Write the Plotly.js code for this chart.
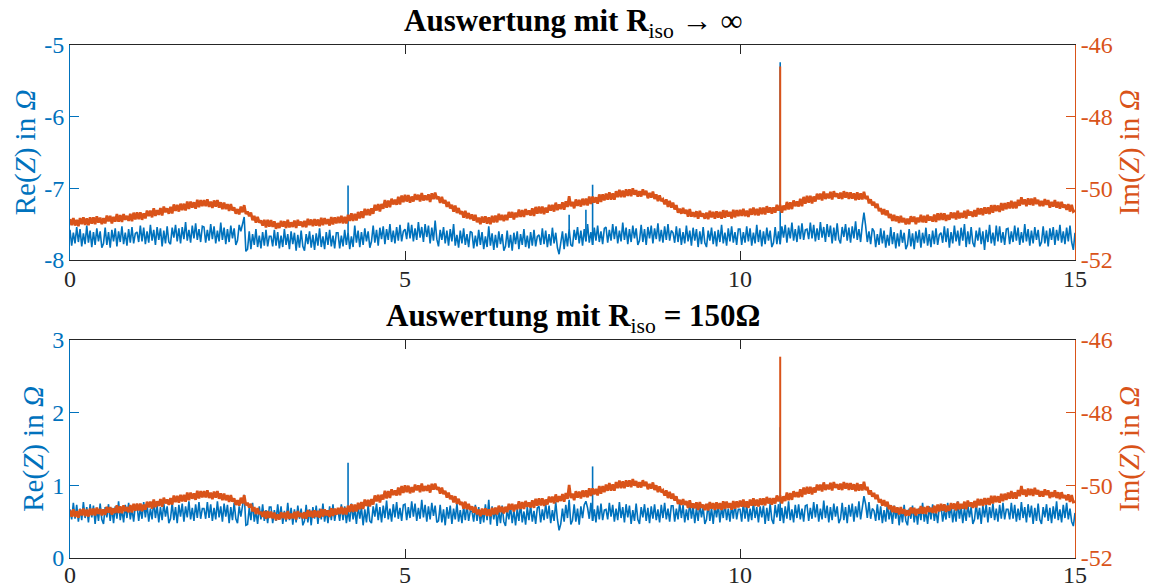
<!DOCTYPE html>
<html>
<head>
<meta charset="utf-8">
<script src="https://cdn.plot.ly/plotly-3.0.1.min.js"></script>
<style>html,body{margin:0;padding:0;background:#fff;}#chart{width:1149px;height:587px;}</style>
</head>
<body>
<div id="chart"></div>
<script>
// sampling of the time axis (s)
const timeStart = 0;
const timeStep = 0.025;

// Auswertung mit R_iso -> infinity
const reTop = [
-7.58,-7.80,-7.62,-7.77,-7.54,-7.75,-7.57,-7.81,-7.63,-7.78,-7.52,-7.76,-7.59,-7.82,-7.61,-7.79,-7.56,-7.74,-7.60,-7.83,-7.77,-7.55,-7.79,-7.61,-7.83,-7.58,-7.74,-7.56,-7.81,-7.60,-7.75,-7.53,-7.78,-7.62,-7.80,-7.57,-7.76,-7.54,-7.77,-7.63,
-7.61,-7.75,-7.52,-7.74,-7.55,-7.78,-7.60,-7.76,-7.51,-7.73,-7.58,-7.79,-7.54,-7.72,-7.56,-7.81,-7.59,-7.77,-7.53,-7.75,-7.78,-7.55,-7.69,-7.51,-7.74,-7.56,-7.77,-7.54,-7.71,-7.47,-7.73,-7.58,-7.76,-7.52,-7.70,-7.49,-7.72,-7.57,-7.75,-7.53,
-7.54,-7.76,-7.58,-7.73,-7.50,-7.71,-7.53,-7.77,-7.59,-7.74,-7.48,-7.72,-7.55,-7.78,-7.57,-7.75,-7.52,-7.70,-7.56,-7.79,-7.73,-7.51,-7.60,-7.50,-7.40,-7.88,-7.85,-7.60,-7.85,-7.64,-7.79,-7.57,-7.82,-7.66,-7.84,-7.61,-7.80,-7.58,-7.81,-7.67,
-7.67,-7.81,-7.58,-7.80,-7.61,-7.84,-7.66,-7.82,-7.57,-7.79,-7.64,-7.85,-7.60,-7.78,-7.62,-7.87,-7.65,-7.83,-7.59,-7.81,-7.87,-7.64,-7.78,-7.60,-7.83,-7.65,-7.86,-7.63,-7.80,-7.56,-7.82,-7.67,-7.85,-7.61,-7.79,-7.58,-7.81,-7.66,-7.84,-7.62,
-7.62,-7.84,-7.66,-7.81,-7.58,-7.79,-7.61,-7.85,-7.67,-7.82,-7.52,-7.76,-7.59,-7.82,-7.61,-7.79,-7.56,-7.74,-7.60,-7.83,-7.74,-7.52,-7.76,-7.58,-7.80,-7.55,-7.71,-7.53,-7.78,-7.57,-7.72,-7.50,-7.75,-7.59,-7.77,-7.54,-7.73,-7.51,-7.74,-7.60,
-7.57,-7.71,-7.48,-7.70,-7.51,-7.74,-7.56,-7.72,-7.47,-7.69,-7.54,-7.75,-7.50,-7.68,-7.52,-7.77,-7.55,-7.73,-7.45,-7.71,-7.81,-7.58,-7.72,-7.54,-7.77,-7.59,-7.80,-7.57,-7.74,-7.50,-7.80,-7.65,-7.83,-7.59,-7.77,-7.56,-7.79,-7.64,-7.82,-7.60,
-7.62,-7.84,-7.66,-7.81,-7.58,-7.79,-7.61,-7.85,-7.67,-7.82,-7.53,-7.80,-7.63,-7.86,-7.65,-7.83,-7.60,-7.78,-7.64,-7.87,-7.81,-7.59,-7.83,-7.65,-7.87,-7.62,-7.78,-7.60,-7.85,-7.64,-7.79,-7.57,-7.82,-7.66,-7.84,-7.61,-7.80,-7.58,-7.81,-7.67,
-7.65,-7.79,-7.56,-7.78,-7.59,-7.82,-7.64,-7.80,-7.55,-7.77,-7.62,-7.83,-7.92,-7.76,-7.60,-7.85,-7.63,-7.81,-7.57,-7.79,-7.81,-7.58,-7.72,-7.54,-7.77,-7.59,-7.80,-7.57,-7.74,-7.50,-7.76,-7.61,-7.79,-7.55,-7.73,-7.52,-7.75,-7.60,-7.78,-7.56,
-7.54,-7.76,-7.58,-7.73,-7.50,-7.71,-7.53,-7.77,-7.59,-7.74,-7.48,-7.72,-7.55,-7.78,-7.57,-7.75,-7.52,-7.70,-7.56,-7.79,-7.73,-7.51,-7.75,-7.57,-7.79,-7.54,-7.70,-7.52,-7.77,-7.56,-7.71,-7.49,-7.74,-7.58,-7.76,-7.53,-7.72,-7.50,-7.73,-7.59,
-7.62,-7.76,-7.53,-7.75,-7.56,-7.79,-7.61,-7.77,-7.52,-7.74,-7.59,-7.80,-7.55,-7.73,-7.57,-7.82,-7.60,-7.78,-7.54,-7.76,-7.82,-7.59,-7.73,-7.55,-7.78,-7.60,-7.81,-7.58,-7.75,-7.51,-7.77,-7.62,-7.80,-7.56,-7.74,-7.53,-7.76,-7.61,-7.79,-7.57,
-7.57,-7.79,-7.61,-7.76,-7.53,-7.74,-7.56,-7.80,-7.62,-7.77,-7.51,-7.75,-7.58,-7.81,-7.60,-7.78,-7.55,-7.73,-7.59,-7.82,-7.76,-7.54,-7.78,-7.60,-7.78,-7.53,-7.69,-7.51,-7.76,-7.55,-7.70,-7.48,-7.73,-7.57,-7.75,-7.52,-7.71,-7.49,-7.72,-7.58,
-7.57,-7.71,-7.48,-7.70,-7.51,-7.74,-7.56,-7.72,-7.47,-7.69,-7.54,-7.75,-7.50,-7.68,-7.52,-7.77,-7.55,-7.73,-7.49,-7.71,-7.77,-7.54,-7.68,-7.50,-7.73,-7.55,-7.76,-7.53,-7.70,-7.46,-7.72,-7.57,-7.75,-7.51,-7.34,-7.52,-7.75,-7.60,-7.78,-7.56,
-7.60,-7.82,-7.64,-7.79,-7.56,-7.77,-7.59,-7.83,-7.65,-7.80,-7.54,-7.78,-7.61,-7.84,-7.63,-7.81,-7.58,-7.76,-7.62,-7.85,-7.79,-7.57,-7.81,-7.63,-7.85,-7.60,-7.76,-7.58,-7.83,-7.62,-7.77,-7.55,-7.80,-7.64,-7.82,-7.59,-7.78,-7.56,-7.79,-7.65,
-7.62,-7.76,-7.53,-7.75,-7.56,-7.83,-7.61,-7.77,-7.52,-7.74,-7.59,-7.80,-7.55,-7.73,-7.50,-7.82,-7.60,-7.78,-7.54,-7.76,-7.82,-7.59,-7.73,-7.55,-7.78,-7.60,-7.86,-7.58,-7.75,-7.51,-7.77,-7.62,-7.80,-7.52,-7.74,-7.53,-7.76,-7.61,-7.79,-7.57,
-7.56,-7.78,-7.60,-7.75,-7.52,-7.73,-7.55,-7.79,-7.61,-7.76,-7.50,-7.74,-7.57,-7.80,-7.59,-7.77,-7.54,-7.72,-7.58,-7.81,-7.75,-7.53,-7.77,-7.59,-7.81,-7.56,-7.72,-7.54,-7.79,-7.58,-7.73,-7.51,-7.76,-7.60,-7.78,-7.55,-7.74,-7.52,-7.75,-7.86,
-7.62
];
const imTop = [
-50.86,-51.03,-50.83,-51.04,-50.88,-51.06,-50.83,-51.00,-50.81,-51.02,-50.84,-51.03,-50.81,-50.99,-50.81,-51.00,-50.78,-50.96,-50.82,-51.00,-50.83,-50.98,-50.76,-50.92,-50.77,-50.98,-50.80,-50.93,-50.72,-50.93,-50.75,-50.94,-50.72,-50.88,-50.77,-50.91,-50.71,-50.92,-50.68,-50.87,
-50.67,-50.86,-50.67,-50.88,-50.70,-50.84,-50.62,-50.78,-50.62,-50.81,-50.56,-50.77,-50.61,-50.74,-50.55,-50.76,-50.51,-50.67,-50.56,-50.71,-50.52,-50.70,-50.45,-50.63,-50.46,-50.65,-50.43,-50.61,-50.43,-50.62,-50.37,-50.58,-50.37,-50.54,-50.39,-50.57,-50.32,-50.53,-50.33,-50.50,
-50.33,-50.50,-50.31,-50.52,-50.37,-50.55,-50.34,-50.51,-50.33,-50.54,-50.39,-50.58,-50.40,-50.58,-50.44,-50.63,-50.44,-50.62,-50.53,-50.71,-50.58,-50.73,-50.51,-50.67,-50.47,-50.72,-50.65,-50.78,-50.68,-50.89,-50.77,-50.96,-50.80,-50.96,-50.90,-51.04,-50.88,-51.09,-50.88,-51.07,
-50.89,-51.08,-50.92,-51.13,-50.97,-51.11,-50.91,-51.07,-50.92,-51.11,-50.88,-51.09,-50.95,-51.08,-50.90,-51.11,-50.88,-51.04,-50.93,-51.08,-50.91,-51.09,-50.85,-51.03,-50.87,-51.06,-50.86,-51.04,-50.87,-51.06,-50.82,-51.03,-50.83,-51.00,-50.86,-51.04,-50.80,-51.01,-50.81,-50.98,
-50.80,-50.97,-50.77,-50.98,-50.80,-50.98,-50.74,-50.91,-50.70,-50.91,-50.71,-50.90,-50.66,-50.84,-50.64,-50.83,-50.57,-50.75,-50.58,-50.76,-50.56,-50.71,-50.46,-50.62,-50.44,-50.65,-50.44,-50.57,-50.33,-50.54,-50.34,-50.53,-50.29,-50.45,-50.32,-50.46,-50.24,-50.45,-50.20,-50.39,
-50.18,-50.37,-50.19,-50.40,-50.23,-50.37,-50.16,-50.32,-50.18,-50.37,-50.13,-50.34,-50.20,-50.33,-50.17,-50.38,-50.14,-50.30,-50.12,-50.30,-50.23,-50.41,-50.24,-50.42,-50.33,-50.52,-50.38,-50.56,-50.46,-50.65,-50.48,-50.69,-50.55,-50.72,-50.64,-50.82,-50.63,-50.84,-50.69,-50.86,
-50.73,-50.90,-50.74,-50.95,-50.82,-51.00,-50.79,-50.96,-50.78,-50.99,-50.81,-51.00,-50.77,-50.95,-50.76,-50.95,-50.71,-50.89,-50.74,-50.92,-50.74,-50.89,-50.66,-50.82,-50.66,-50.87,-50.68,-50.81,-50.59,-50.80,-50.61,-50.80,-50.58,-50.74,-50.62,-50.76,-50.56,-50.77,-50.52,-50.71,
-50.51,-50.70,-50.51,-50.72,-50.54,-50.68,-50.46,-50.62,-50.46,-50.65,-50.40,-50.61,-50.45,-50.58,-50.39,-50.60,-50.36,-50.52,-50.22,-50.50,-50.38,-50.56,-50.31,-50.49,-50.32,-50.51,-50.29,-50.47,-50.29,-50.48,-50.23,-50.44,-50.23,-50.40,-50.25,-50.43,-50.17,-50.38,-50.17,-50.34,
-50.15,-50.32,-50.11,-50.32,-50.14,-50.32,-50.08,-50.25,-50.04,-50.25,-50.06,-50.25,-50.03,-50.21,-50.03,-50.22,-50.00,-50.18,-50.05,-50.23,-50.08,-50.23,-50.03,-50.19,-50.07,-50.28,-50.13,-50.26,-50.09,-50.30,-50.17,-50.36,-50.20,-50.36,-50.31,-50.45,-50.31,-50.52,-50.35,-50.54,
-50.40,-50.59,-50.47,-50.68,-50.57,-50.71,-50.55,-50.71,-50.60,-50.79,-50.58,-50.79,-50.67,-50.80,-50.64,-50.85,-50.63,-50.79,-50.70,-50.85,-50.68,-50.86,-50.63,-50.81,-50.66,-50.85,-50.64,-50.82,-50.66,-50.85,-50.61,-50.82,-50.62,-50.79,-50.66,-50.84,-50.60,-50.81,-50.61,-50.78,
-50.60,-50.77,-50.57,-50.78,-50.62,-50.80,-50.57,-50.74,-50.54,-50.75,-50.57,-50.76,-50.54,-50.72,-50.54,-50.73,-50.50,-50.68,-50.53,-50.71,-50.53,-50.68,-50.46,-50.62,-50.47,-50.68,-50.48,-50.61,-50.38,-50.59,-50.39,-50.58,-50.34,-50.50,-50.37,-50.51,-50.29,-50.50,-50.24,-50.43,
-50.21,-50.40,-50.21,-50.42,-50.23,-50.37,-50.15,-50.31,-50.15,-50.34,-50.09,-50.30,-50.15,-50.28,-50.10,-50.31,-50.08,-50.24,-50.14,-50.29,-50.12,-50.30,-50.08,-50.26,-50.11,-50.30,-50.11,-50.29,-50.14,-50.33,-50.11,-50.32,-50.14,-50.31,-50.10,-50.30,-50.21,-50.42,-50.31,-50.48,
-50.38,-50.55,-50.43,-50.64,-50.55,-50.73,-50.58,-50.75,-50.62,-50.83,-50.72,-50.91,-50.74,-50.92,-50.78,-50.97,-50.77,-50.95,-50.83,-51.01,-50.85,-51.00,-50.78,-50.94,-50.79,-51.00,-50.82,-50.95,-50.74,-50.95,-50.77,-50.96,-50.74,-50.90,-50.79,-50.93,-50.73,-50.94,-50.70,-50.89,
-50.69,-50.88,-50.70,-50.91,-50.74,-50.88,-50.67,-50.83,-50.68,-50.87,-50.63,-50.84,-50.69,-50.82,-50.63,-50.84,-50.60,-50.76,-50.65,-50.80,-50.61,-50.79,-50.55,-50.73,-50.56,-50.75,-50.53,-50.71,-50.53,-50.72,-50.47,-50.68,-50.47,-50.64,-50.48,-50.66,-50.41,-50.62,-50.41,-50.58,
-50.39,-50.56,-50.35,-50.56,-50.38,-50.56,-50.32,-50.49,-50.25,-50.45,-50.31,-50.50,-50.28,-50.46,-50.29,-50.48,-50.26,-50.44,-50.32,-50.50,-50.35,-50.50,-50.30,-50.46,-50.33,-50.54,-50.38,-50.51,-50.33,-50.54,-50.38,-50.57,-50.38,-50.54,-50.46,-50.60,-50.44,-50.65,-50.46,-50.65,
-50.62
];
// narrow single-sample spikes (time in s, peak value)
const reTopSpikeTimes = [4.15, 7.45, 7.7, 7.8, 10.6];
const reTopSpikePeaks = [-6.96, -7.37, -7.30, -6.95, -5.24];
const imTopSpikeTimes = [10.6];
const imTopSpikePeaks = [-46.6];

// Auswertung mit R_iso = 150 Ohm
const reBottom = [
0.67,0.53,0.76,0.54,0.73,0.50,0.68,0.52,0.77,0.55,0.70,0.49,0.74,0.56,0.72,0.47,0.69,0.51,0.75,0.53,0.47,0.70,0.56,0.74,0.51,0.69,0.48,0.71,0.54,0.78,0.52,0.67,0.49,0.73,0.55,0.76,0.53,0.68,0.50,0.72,
0.73,0.51,0.69,0.54,0.77,0.56,0.74,0.50,0.68,0.53,0.79,0.55,0.72,0.49,0.70,0.52,0.75,0.57,0.71,0.48,0.54,0.76,0.52,0.70,0.48,0.73,0.57,0.75,0.50,0.71,0.56,0.78,0.53,0.69,0.51,0.74,0.55,0.77,0.54,0.68,
0.68,0.54,0.77,0.55,0.74,0.51,0.69,0.53,0.78,0.56,0.71,0.50,0.75,0.57,0.73,0.48,0.70,0.52,0.76,0.54,0.48,0.71,0.57,0.75,0.87,0.45,0.46,0.69,0.52,0.76,0.50,0.65,0.47,0.71,0.53,0.74,0.51,0.66,0.48,0.70,
0.70,0.48,0.66,0.51,0.74,0.53,0.71,0.47,0.65,0.50,0.76,0.52,0.69,0.46,0.67,0.49,0.72,0.54,0.68,0.45,0.51,0.73,0.49,0.67,0.45,0.70,0.54,0.72,0.47,0.68,0.53,0.75,0.50,0.66,0.48,0.71,0.52,0.74,0.51,0.65,
0.65,0.51,0.74,0.52,0.71,0.48,0.66,0.50,0.75,0.53,0.68,0.47,0.72,0.54,0.70,0.45,0.67,0.49,0.73,0.51,0.48,0.71,0.57,0.75,0.52,0.70,0.49,0.72,0.55,0.79,0.53,0.68,0.50,0.74,0.56,0.77,0.54,0.69,0.51,0.73,
0.74,0.52,0.70,0.55,0.78,0.57,0.75,0.51,0.69,0.54,0.80,0.56,0.73,0.50,0.71,0.53,0.76,0.58,0.72,0.49,0.51,0.73,0.49,0.67,0.45,0.70,0.54,0.72,0.47,0.68,0.53,0.75,0.50,0.66,0.48,0.71,0.52,0.74,0.51,0.65,
0.64,0.50,0.73,0.51,0.70,0.47,0.65,0.49,0.74,0.52,0.80,0.46,0.71,0.53,0.69,0.44,0.66,0.48,0.72,0.50,0.44,0.67,0.53,0.71,0.48,0.66,0.45,0.68,0.51,0.75,0.49,0.64,0.46,0.70,0.52,0.73,0.50,0.65,0.47,0.69,
0.71,0.49,0.67,0.52,0.75,0.54,0.72,0.48,0.66,0.51,0.77,0.53,0.38,0.47,0.68,0.50,0.73,0.55,0.80,0.46,0.52,0.74,0.50,0.68,0.46,0.71,0.55,0.73,0.78,0.69,0.54,0.76,0.51,0.67,0.49,0.72,0.53,0.75,0.52,0.66,
0.67,0.53,0.76,0.57,0.73,0.50,0.68,0.52,0.77,0.55,0.70,0.49,0.74,0.56,0.72,0.47,0.66,0.51,0.75,0.53,0.47,0.70,0.56,0.74,0.51,0.69,0.48,0.71,0.54,0.74,0.52,0.67,0.49,0.73,0.55,0.76,0.53,0.68,0.50,0.72,
0.72,0.50,0.68,0.53,0.76,0.55,0.73,0.49,0.67,0.52,0.78,0.54,0.71,0.48,0.69,0.51,0.74,0.56,0.70,0.47,0.53,0.75,0.51,0.69,0.47,0.72,0.56,0.74,0.49,0.70,0.55,0.77,0.52,0.68,0.50,0.73,0.54,0.76,0.53,0.67,
0.67,0.50,0.76,0.54,0.73,0.50,0.68,0.52,0.77,0.55,0.70,0.49,0.71,0.56,0.72,0.47,0.69,0.51,0.75,0.53,0.47,0.73,0.56,0.74,0.51,0.69,0.48,0.71,0.54,0.78,0.52,0.67,0.49,0.73,0.55,0.74,0.53,0.68,0.50,0.72,
0.73,0.51,0.69,0.54,0.77,0.56,0.74,0.50,0.68,0.53,0.79,0.55,0.72,0.49,0.70,0.52,0.75,0.57,0.71,0.48,0.54,0.76,0.52,0.70,0.48,0.73,0.57,0.75,0.50,0.71,0.56,0.78,0.53,0.69,0.85,0.74,0.55,0.77,0.54,0.68,
0.65,0.51,0.74,0.52,0.71,0.48,0.66,0.50,0.75,0.53,0.68,0.47,0.72,0.54,0.70,0.45,0.67,0.49,0.73,0.51,0.45,0.68,0.54,0.72,0.49,0.67,0.46,0.69,0.52,0.76,0.50,0.65,0.47,0.71,0.53,0.74,0.51,0.66,0.48,0.70,
0.72,0.50,0.66,0.53,0.76,0.55,0.73,0.49,0.67,0.50,0.78,0.54,0.71,0.48,0.69,0.51,0.74,0.56,0.70,0.47,0.53,0.75,0.53,0.69,0.47,0.72,0.56,0.74,0.49,0.70,0.55,0.75,0.52,0.68,0.50,0.73,0.54,0.76,0.53,0.67,
0.67,0.53,0.76,0.54,0.73,0.50,0.68,0.52,0.77,0.55,0.70,0.49,0.74,0.56,0.72,0.47,0.69,0.51,0.75,0.53,0.47,0.70,0.56,0.74,0.51,0.69,0.48,0.71,0.54,0.78,0.52,0.67,0.49,0.73,0.55,0.76,0.53,0.68,0.50,0.44,
0.62
];
const imBottom = [
-50.69,-50.86,-50.66,-50.87,-50.71,-50.89,-50.66,-50.83,-50.64,-50.85,-50.67,-50.86,-50.64,-50.82,-50.64,-50.83,-50.61,-50.79,-50.65,-50.83,-50.66,-50.81,-50.59,-50.75,-50.60,-50.81,-50.63,-50.76,-50.55,-50.76,-50.58,-50.77,-50.55,-50.71,-50.60,-50.74,-50.54,-50.75,-50.51,-50.70,
-50.50,-50.69,-50.50,-50.71,-50.53,-50.67,-50.45,-50.61,-50.45,-50.64,-50.39,-50.60,-50.44,-50.57,-50.38,-50.59,-50.34,-50.50,-50.39,-50.54,-50.35,-50.53,-50.28,-50.46,-50.29,-50.48,-50.26,-50.44,-50.26,-50.45,-50.20,-50.41,-50.20,-50.37,-50.22,-50.40,-50.15,-50.36,-50.16,-50.33,
-50.16,-50.33,-50.14,-50.35,-50.20,-50.38,-50.17,-50.34,-50.16,-50.37,-50.22,-50.41,-50.23,-50.41,-50.27,-50.46,-50.27,-50.45,-50.36,-50.54,-50.41,-50.56,-50.34,-50.50,-50.27,-50.55,-50.48,-50.61,-50.51,-50.72,-50.60,-50.79,-50.63,-50.79,-50.73,-50.87,-50.71,-50.92,-50.71,-50.90,
-50.72,-50.91,-50.75,-50.96,-50.80,-50.94,-50.74,-50.90,-50.75,-50.94,-50.71,-50.92,-50.78,-50.91,-50.73,-50.94,-50.71,-50.87,-50.76,-50.91,-50.74,-50.92,-50.68,-50.86,-50.70,-50.89,-50.69,-50.87,-50.70,-50.89,-50.65,-50.86,-50.66,-50.83,-50.69,-50.87,-50.63,-50.84,-50.64,-50.81,
-50.62,-50.79,-50.59,-50.80,-50.62,-50.80,-50.56,-50.73,-50.52,-50.73,-50.53,-50.72,-50.48,-50.66,-50.46,-50.65,-50.39,-50.57,-50.40,-50.58,-50.38,-50.53,-50.28,-50.44,-50.26,-50.47,-50.26,-50.39,-50.15,-50.36,-50.16,-50.35,-50.11,-50.27,-50.14,-50.28,-50.06,-50.27,-50.02,-50.21,
-50.00,-50.19,-50.01,-50.22,-50.05,-50.19,-49.98,-50.14,-50.00,-50.19,-49.95,-50.16,-50.02,-50.15,-49.99,-50.20,-49.96,-50.12,-49.95,-50.12,-50.05,-50.23,-50.06,-50.24,-50.15,-50.34,-50.20,-50.38,-50.28,-50.47,-50.30,-50.51,-50.37,-50.54,-50.46,-50.64,-50.45,-50.66,-50.51,-50.68,
-50.58,-50.75,-50.59,-50.80,-50.67,-50.85,-50.64,-50.81,-50.63,-50.84,-50.66,-50.85,-50.62,-50.80,-50.61,-50.80,-50.56,-50.74,-50.59,-50.77,-50.59,-50.74,-50.51,-50.67,-50.51,-50.72,-50.53,-50.66,-50.44,-50.65,-50.46,-50.65,-50.43,-50.59,-50.47,-50.61,-50.41,-50.62,-50.37,-50.56,
-50.36,-50.55,-50.36,-50.57,-50.39,-50.53,-50.31,-50.47,-50.31,-50.50,-50.25,-50.46,-50.30,-50.43,-50.24,-50.45,-50.21,-50.37,-49.99,-50.35,-50.23,-50.41,-50.16,-50.34,-50.17,-50.36,-50.14,-50.32,-50.14,-50.33,-50.08,-50.29,-50.08,-50.25,-50.10,-50.28,-50.02,-50.23,-50.02,-50.19,
-49.98,-50.15,-49.94,-50.15,-49.97,-50.15,-49.91,-50.08,-49.87,-50.08,-49.89,-50.08,-49.86,-50.04,-49.86,-50.05,-49.83,-50.01,-49.88,-50.06,-49.91,-50.06,-49.86,-50.02,-49.90,-50.11,-49.96,-50.09,-49.92,-50.13,-50.00,-50.19,-50.03,-50.19,-50.14,-50.28,-50.14,-50.35,-50.18,-50.37,
-50.23,-50.42,-50.30,-50.51,-50.40,-50.54,-50.38,-50.54,-50.43,-50.62,-50.41,-50.62,-50.50,-50.63,-50.47,-50.68,-50.46,-50.62,-50.53,-50.68,-50.51,-50.69,-50.46,-50.64,-50.49,-50.68,-50.47,-50.65,-50.49,-50.68,-50.44,-50.65,-50.45,-50.62,-50.49,-50.67,-50.43,-50.64,-50.44,-50.61,
-50.42,-50.59,-50.39,-50.60,-50.44,-50.62,-50.39,-50.56,-50.36,-50.57,-50.39,-50.58,-50.36,-50.54,-50.36,-50.55,-50.32,-50.50,-50.35,-50.53,-50.35,-50.50,-50.28,-50.44,-50.29,-50.50,-50.30,-50.43,-50.20,-50.41,-50.21,-50.40,-50.16,-50.32,-50.19,-50.33,-50.11,-50.32,-50.06,-50.25,
-50.04,-50.23,-50.04,-50.25,-50.06,-50.20,-49.98,-50.14,-49.98,-50.17,-49.92,-50.13,-49.98,-50.11,-49.93,-50.14,-49.91,-50.07,-49.97,-50.12,-49.95,-50.13,-49.91,-50.09,-49.94,-50.13,-49.94,-50.12,-49.97,-50.16,-49.94,-50.15,-49.97,-50.14,-49.90,-50.13,-50.04,-50.25,-50.14,-50.31,
-50.21,-50.38,-50.26,-50.47,-50.38,-50.56,-50.41,-50.58,-50.45,-50.66,-50.55,-50.74,-50.57,-50.75,-50.61,-50.80,-50.60,-50.78,-50.66,-50.84,-50.68,-50.83,-50.61,-50.77,-50.62,-50.83,-50.65,-50.78,-50.57,-50.78,-50.60,-50.79,-50.57,-50.73,-50.62,-50.76,-50.56,-50.77,-50.53,-50.72,
-50.51,-50.70,-50.52,-50.73,-50.56,-50.70,-50.49,-50.65,-50.50,-50.69,-50.45,-50.66,-50.51,-50.64,-50.45,-50.66,-50.42,-50.58,-50.47,-50.62,-50.43,-50.61,-50.37,-50.55,-50.38,-50.57,-50.35,-50.53,-50.35,-50.54,-50.29,-50.50,-50.29,-50.46,-50.30,-50.48,-50.23,-50.44,-50.23,-50.40,
-50.20,-50.37,-50.16,-50.37,-50.19,-50.37,-50.13,-50.30,-50.02,-50.26,-50.12,-50.31,-50.09,-50.27,-50.10,-50.29,-50.07,-50.25,-50.13,-50.31,-50.16,-50.31,-50.11,-50.27,-50.14,-50.35,-50.19,-50.32,-50.14,-50.35,-50.19,-50.38,-50.19,-50.35,-50.27,-50.41,-50.25,-50.46,-50.27,-50.46,
-50.45
];
const reBottomSpikeTimes = [4.15, 7.8, 10.6];
const reBottomSpikePeaks = [1.31, 1.26, 1.80];
const imBottomSpikeTimes = [10.6];
const imBottomSpikePeaks = [-46.46];

// axis ticks
const xTickVals = [0, 5, 10, 15];
const xTickText = ['0', '5', '10', '15'];
const reTopTickVals = [-8, -7, -6, -5];
const reTopTickText = ['-8', '-7', '-6', '-5'];
const reBottomTickVals = [0, 1, 2, 3];
const reBottomTickText = ['0', '1', '2', '3'];
const imTickVals = [-52, -50, -48, -46];
const imTickText = ['-52', '-50', '-48', '-46'];

const titles = ['<b>Auswertung mit R</b><sub>iso</sub> → ∞', '<b>Auswertung mit R</b><sub>iso</sub><b> = 150Ω</b>'];

const BLUE = '#0072BD', ORANGE = '#D95319', DARK = '#262626';
const FONT = 'Liberation Serif, Times New Roman, serif';

// spikes: vertical strokes from the band value at that sample to the peak
function spikeTrace(series, times, peaks, xa, ya, color, width) {
  const xs = [], ys = [];
  times.forEach((t, k) => {
    const base = series[Math.round((t - timeStart) / timeStep)];
    xs.push(t, t, null); ys.push(base, peaks[k], null);
  });
  return {x: xs, y: ys, xaxis: xa, yaxis: ya, type: 'scatter', mode: 'lines', line: {color: color, width: width}};
}
function band(series, xa, ya, color, width) {
  return {x0: timeStart, dx: timeStep, y: series, xaxis: xa, yaxis: ya, type: 'scatter', mode: 'lines',
    line: {color: color, width: width}};
}

const traces = [
  band(reTop, 'x', 'y', BLUE, 1.6),
  spikeTrace(reTop, reTopSpikeTimes, reTopSpikePeaks, 'x', 'y', BLUE, 1.6),
  band(imTop, 'x', 'y2', ORANGE, 2.7),
  spikeTrace(imTop, imTopSpikeTimes, imTopSpikePeaks, 'x', 'y2', ORANGE, 2),
  band(reBottom, 'x2', 'y3', BLUE, 1.6),
  spikeTrace(reBottom, reBottomSpikeTimes, reBottomSpikePeaks, 'x2', 'y3', BLUE, 1.6),
  band(imBottom, 'x2', 'y4', ORANGE, 2.7),
  spikeTrace(imBottom, imBottomSpikeTimes, imBottomSpikePeaks, 'x2', 'y4', ORANGE, 2)
];

function xAx(anchor, standoff) {
  return {anchor: anchor, domain: [0, 1], range: [0, 15], tickvals: xTickVals, ticktext: xTickText,
    ticks: 'inside', ticklen: 9, tickcolor: DARK, showline: true, linecolor: DARK, linewidth: 1,
    ticklabelstandoff: standoff,
    mirror: 'ticks', showgrid: false, zeroline: false, tickfont: {family: FONT, size: 24, color: DARK}};
}
function yAx(dom, range, tv, tt, color, title, extra) {
  return Object.assign({domain: dom, range: range, tickvals: tv, ticktext: tt, ticks: 'inside', ticklen: 9,
    tickcolor: color, showline: true, linecolor: color, linewidth: 1, showgrid: false, zeroline: false,
    tickfont: {family: FONT, size: 24, color: color},
    title: {text: title, font: {family: FONT, size: 29, color: color}, standoff: 0}}, extra);
}

const topDom = [0.581, 1], botDom = [0, 0.425];
const layout = {
  width: 1149, height: 587,
  margin: {l: 70, r: 74, t: 45, b: 29, pad: 0},
  paper_bgcolor: '#ffffff', plot_bgcolor: '#ffffff',
  showlegend: false,
  font: {family: FONT, color: DARK},
  xaxis: xAx('y', -3),
  xaxis2: xAx('y3', -5),
  yaxis: yAx(topDom, [-8, -5], reTopTickVals, reTopTickText, BLUE, 'Re(<i>Z</i>) in <i>Ω</i>', {anchor: 'x'}),
  yaxis2: yAx(topDom, [-52, -46], imTickVals, imTickText, ORANGE, 'Im(<i>Z</i>) in <i>Ω</i>', {anchor: 'x', overlaying: 'y', side: 'right'}),
  yaxis3: yAx(botDom, [0, 3], reBottomTickVals, reBottomTickText, BLUE, 'Re(<i>Z</i>) in <i>Ω</i>', {anchor: 'x2'}),
  yaxis4: yAx(botDom, [-52, -46], imTickVals, imTickText, ORANGE, 'Im(<i>Z</i>) in <i>Ω</i>', {anchor: 'x2', overlaying: 'y3', side: 'right'}),
  annotations: [
    {text: titles[0], xref: 'paper', yref: 'paper', x: 0.5, y: 1, xanchor: 'center', yanchor: 'bottom', yshift: 0, showarrow: false, font: {family: FONT, size: 31, color: '#000'}},
    {text: titles[1], xref: 'paper', yref: 'paper', x: 0.5, y: 0.425, xanchor: 'center', yanchor: 'bottom', yshift: 0, showarrow: false, font: {family: FONT, size: 31, color: '#000'}}
  ]
};

Plotly.newPlot('chart', traces, layout, {displayModeBar: false, staticPlot: true});
</script>
</body>
</html>
